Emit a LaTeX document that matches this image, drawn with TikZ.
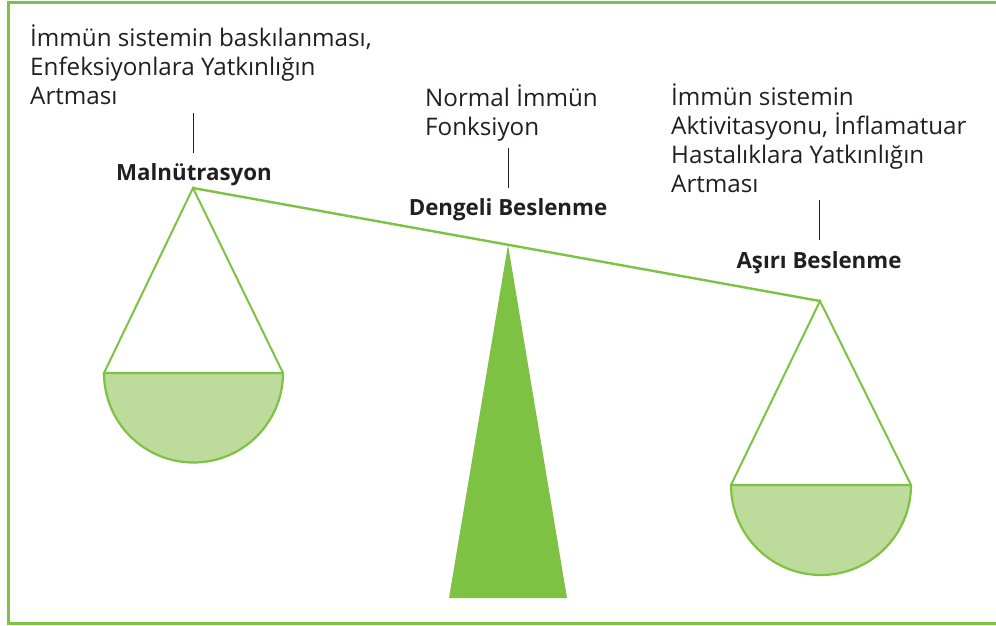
\documentclass[tikz,border=0pt]{standalone}
\usepackage{fontspec}
\setmainfont{Open Sans}
\definecolor{leaf}{RGB}{125,194,66}
\definecolor{panfill}{RGB}{189,220,156}
\definecolor{ink}{RGB}{35,31,32}
\begin{document}
\begin{tikzpicture}[x=1pt,y=-1pt,
  txt/.style={inner sep=0pt,text=ink,font=\fontsize{24.2}{28.8}\selectfont,align=left},
  title/.style={inner sep=0pt,text=ink,font=\fontsize{22.3}{26}\selectfont\bfseries},
  tick/.style={draw=ink,line width=0.9pt},
  green/.style={draw=leaf,line width=2.4pt},
  rope/.style={draw=leaf,line width=2pt,line join=miter},
  pan/.style={draw=leaf,fill=panfill,line width=2.2pt}]
\useasboundingbox (0,0) rectangle (996,626);
% open frame
\draw[draw=leaf,line width=3pt] (998,3) -- (8,3) -- (8,623) -- (998,623);

% pivot points
\coordinate (pl) at (193,188);
\coordinate (pc) at (508,245);
\coordinate (pr) at (820,301);

% fulcrum
\fill[leaf] (pc) -- (567,598) -- (449,598) -- cycle;

% beam
\draw[green] (pl) -- (pr);

% left pan
\coordinate (l1) at (104,373);
\coordinate (l2) at (283,373);
\draw[rope] (l1) -- (pl) -- (l2);
\draw[pan] (l1) arc[start angle=180,end angle=0,radius=89.5] -- cycle;

% right pan
\coordinate (r1) at (731,485);
\coordinate (r2) at (911,485);
\draw[rope] (r1) -- (pr) -- (r2);
\draw[pan] (r1) arc[start angle=180,end angle=0,radius=90] -- cycle;

% labels (base anchor sits on the last line)
\node[txt,anchor=base west] (effL) at (30,104) {İmmün sistemin baskılanması,\\Enfeksiyonlara Yatkınlığın\\Artması};
\node[title,anchor=base] (malN) at (194,180) {Malnütrasyon};
\coordinate (tl1) at (193.5,113);
\coordinate (tl2) at (193.5,153);
\draw[tick] (tl1) -- (tl2);

\node[txt,anchor=base west] (effC) at (425,135) {Normal İmmün\\Fonksiyon};
\node[title,anchor=base] (denB) at (508,215) {Dengeli Beslenme};
\coordinate (tc1) at (508,148);
\coordinate (tc2) at (508,188);
\draw[tick] (tc1) -- (tc2);

\node[txt,anchor=base west] (effR) at (671,192) {İmmün sistemin\\Aktivitasyonu, İnflamatuar\\Hastalıklara Yatkınlığın\\Artması};
\node[title,anchor=base] (asiB) at (819,268) {Aşırı Beslenme};
\coordinate (tr1) at (819,200);
\coordinate (tr2) at (819,240);
\draw[tick] (tr1) -- (tr2);
\end{tikzpicture}
\end{document}
